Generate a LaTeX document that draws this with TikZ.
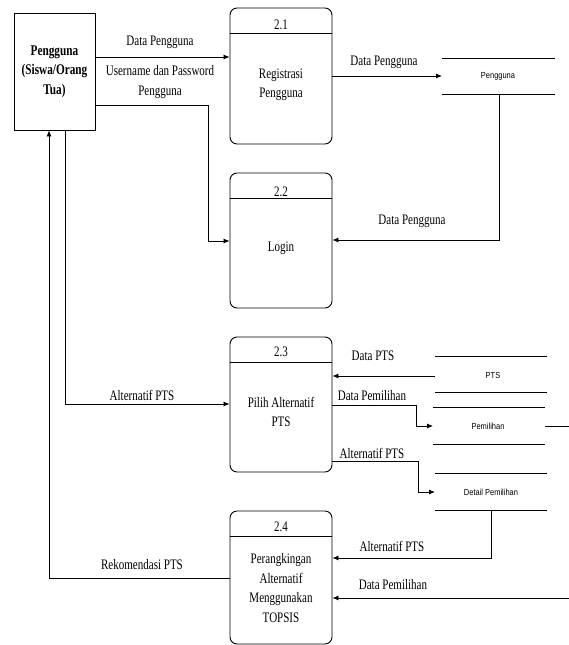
\documentclass[tikz,border=0pt]{standalone}
\usepackage{fontspec}
\setmainfont{Liberation Serif}[FakeStretch=0.76]
\newfontfamily\storefont{Liberation Sans}[FakeStretch=0.85]
\usetikzlibrary{arrows.meta}
\begin{document}
\begin{tikzpicture}[x=1pt,y=-1pt,
  lbl/.style={font=\fontsize{14.5}{19.5}\selectfont, inner sep=0pt, align=center},
  stxt/.style={font=\storefont\fontsize{8.8}{10}\selectfont, inner sep=0pt},
  arr/.style={-{Latex[length=6pt,width=5pt]}, line width=0.8pt},
  ln/.style={line width=0.8pt},
  proc/.style={draw, line width=0.9pt, rounded corners=7pt, minimum width=102pt, inner sep=0pt},
]
\useasboundingbox (0,0) rectangle (569,645);

% external entity
\node[draw, line width=0.9pt, minimum width=81pt, minimum height=117pt, inner sep=0pt] (ent) at (54.5,71.5) {};
\node[lbl, font=\fontsize{14.8}{19.5}\selectfont\bfseries] (entt) at (ent) {Pengguna\\(Siswa/Orang\\Tua)};

% processes
\node[proc, minimum height=136pt] (p21) at (281,76) {};
\node[proc, minimum height=135pt] (p22) at (281,240.5) {};
\node[proc, minimum height=135pt] (p23) at (281,404.5) {};
\node[proc, minimum height=133pt] (p24) at (281,577.5) {};

\draw[ln] (p21.west |- 0,33) -- (p21.east |- 0,33);
\draw[ln] (p22.west |- 0,198) -- (p22.east |- 0,198);
\draw[ln] (p23.west |- 0,362) -- (p23.east |- 0,362);
\draw[ln] (p24.west |- 0,536) -- (p24.east |- 0,536);

\node[lbl] (n21) at (281,24.5) {2.1};
\node[lbl] (n22) at (281,191.5) {2.2};
\node[lbl] (n23) at (281,352) {2.3};
\node[lbl] (n24) at (281,526.5) {2.4};

\node[lbl] (t21) at (281,85) {Registrasi\\Pengguna};
\node[lbl] (t22) at (281,248) {Login};
\node[lbl] (t23) at (281,412) {Pilih Alternatif\\PTS};
\node[lbl] (t24) at (281,588) {Perangkingan\\Alternatif\\Menggunakan\\TOPSIS};

% data stores
\draw[ln] (442,58) -- (555,58); \draw[ln] (442,94) -- (555,94);
\node[stxt] (sPeng) at (498,76) {Pengguna};
\coordinate (sPengL) at (442,76);
\coordinate (sPengB) at (499,94);

\draw[ln] (435,356) -- (547,356); \draw[ln] (435,392) -- (547,392);
\node[stxt] (sPTS) at (493,375) {PTS};
\coordinate (sPTSL) at (435,376);

\draw[ln] (433,407) -- (545,407); \draw[ln] (433,444) -- (545,444);
\node[stxt] (sPem) at (488,426) {Pemilihan};
\coordinate (sPemL) at (433,426);
\coordinate (sPemR) at (545,426);
\coordinate (edgeA) at (569,426);

\draw[ln] (435,473) -- (547,473); \draw[ln] (435,510) -- (547,510);
\node[stxt] (sDet) at (491,492) {Detail Pemilihan};
\coordinate (sDetL) at (435,492);
\coordinate (sDetB) at (491,510);
\coordinate (edgeB) at (569,598);

% connectors
\draw[arr] (ent.east |- 0,57) -- (p21.west |- 0,57);
\draw[arr] (ent.east |- 0,105) -| (208,241) -- (p22.west |- 0,241);
\draw[arr] (p21.east |- sPengL) -- (sPengL);
\draw[arr] (sPengB) |- (p22.east |- 0,240);
\draw[arr] (ent.south -| 65,0) |- (p23.west |- 0,404);
\draw[arr] (p24.west |- 0,578) -| (ent.south -| 49,0);
\draw[arr] (sPTSL) -- (p23.east |- sPTSL);
\draw[arr] (p23.east |- 0,405) -| (416,426) -- (sPemL);
\draw[arr] (p23.east |- 0,461) -| (418,492) -- (sDetL);
\draw[arr] (sDetB) |- (p24.east |- 0,558);
\draw[arr] (edgeB) -- (p24.east |- edgeB);
\draw[ln] (sPemR) -- (edgeA);

% labels
\node[lbl] (l1) at (160,42) {Data Pengguna};
\node[lbl] (l2) at (160,82) {Username dan Password\\Pengguna};
\node[lbl] (l3) at (384,62) {Data Pengguna};
\node[lbl] (l4) at (412,221) {Data Pengguna};
\node[lbl] (l5) at (142,395) {Alternatif PTS};
\node[lbl] (l6) at (142,565) {Rekomendasi PTS};
\node[lbl] (l7) at (373,356) {Data PTS};
\node[lbl] (l8) at (372,396) {Data Pemilihan};
\node[lbl] (l9) at (372,453) {Alternatif PTS};
\node[lbl] (l10) at (392,546) {Alternatif PTS};
\node[lbl] (l11) at (393,585) {Data Pemilihan};
\end{tikzpicture}
\end{document}
